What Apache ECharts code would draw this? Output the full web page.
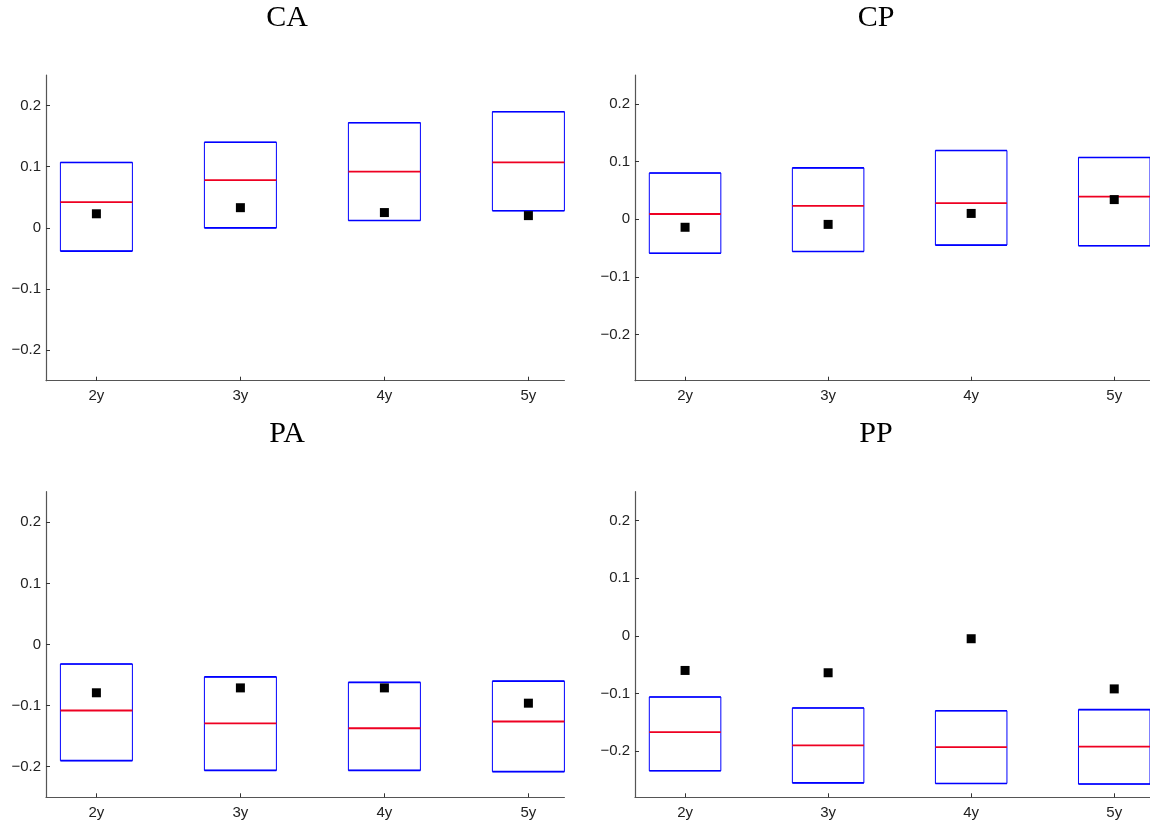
<!DOCTYPE html>
<html>
<head>
<meta charset="utf-8">
<script src="https://cdn.jsdelivr.net/npm/echarts@6/dist/echarts.min.js"></script>
<style>
  html, body { margin: 0; padding: 0; background: #fff; }
  #chart { width: 1150px; height: 826px; }
</style>
</head>
<body>
<div id="chart"></div>
<script>
// Forecast horizons (x positions 1..4)
const horizons = ['2y', '3y', '4y', '5y'];
const panelNames = ['CA', 'CP', 'PA', 'PP'];
const yTicks = [-0.2, -0.1, 0, 0.1, 0.2];

// Band limits, median and point estimate per panel
const caUpper  = [0.107, 0.140, 0.172, 0.190];
const caLower  = [-0.038, 0.000, 0.012, 0.028];
const caMedian = [0.042, 0.078, 0.092, 0.107];
const caPoint  = [0.023, 0.033, 0.025, 0.020];

const cpUpper  = [0.080, 0.089, 0.119, 0.107];
const cpLower  = [-0.059, -0.056, -0.045, -0.046];
const cpMedian = [0.009, 0.023, 0.028, 0.039];
const cpPoint  = [-0.014, -0.009, 0.010, 0.034];

const paUpper  = [-0.032, -0.053, -0.062, -0.060];
const paLower  = [-0.190, -0.206, -0.206, -0.208];
const paMedian = [-0.108, -0.129, -0.137, -0.126];
const paPoint  = [-0.079, -0.071, -0.071, -0.096];

const ppUpper  = [-0.106, -0.125, -0.130, -0.128];
const ppLower  = [-0.234, -0.255, -0.256, -0.257];
const ppMedian = [-0.167, -0.190, -0.193, -0.192];
const ppPoint  = [-0.060, -0.064, -0.005, -0.092];

const panelData = [
  { upper: caUpper, lower: caLower, median: caMedian, point: caPoint, yMin: -0.25 },
  { upper: cpUpper, lower: cpLower, median: cpMedian, point: cpPoint, yMin: -0.28 },
  { upper: paUpper, lower: paLower, median: paMedian, point: paPoint, yMin: -0.25 },
  { upper: ppUpper, lower: ppLower, median: ppMedian, point: ppPoint, yMin: -0.28 }
];

const gridBoxes = [
  { left: 46,  top: 75,    width: 518.4, height: 305.7 },
  { left: 635, top: 75,    width: 518.4, height: 305.7 },
  { left: 46,  top: 491.7, width: 518.4, height: 305.6 },
  { left: 635, top: 491.7, width: 518.4, height: 305.6 }
];
const titlePos = [[287, 18], [876, 18], [287, 434], [876, 434]];

const halfWidth = 0.25;
const axisColor = '#555';

function fmtY(v) {
  if (Math.abs(v) < 1e-9) return '0';
  return (v < 0 ? '\u2212' : '') + Math.abs(v).toFixed(1);
}

const grids = [], xAxes = [], yAxes = [], series = [], graphics = [];

panelData.forEach((p, i) => {
  grids.push(Object.assign({ containLabel: false }, gridBoxes[i]));
  xAxes.push({
    type: 'value', gridIndex: i, min: 0.65, max: 4.25,
    splitLine: { show: false },
    axisLine: { onZero: false, lineStyle: { color: axisColor, width: 1.2 } },
    axisTick: { inside: true, length: 4, customValues: [1, 2, 3, 4], lineStyle: { color: '#333' } },
    axisLabel: {
      customValues: [1, 2, 3, 4], margin: 8,
      formatter: v => horizons[Math.round(v) - 1],
      fontFamily: 'Liberation Sans', fontSize: 15, color: '#222'
    }
  });
  yAxes.push({
    type: 'value', gridIndex: i, min: p.yMin, max: 0.25,
    splitLine: { show: false },
    axisLine: { show: true, lineStyle: { color: axisColor, width: 1.2 } },
    axisTick: { show: true, inside: true, length: 4, customValues: yTicks, lineStyle: { color: '#333' } },
    axisLabel: {
      customValues: yTicks, margin: 5, formatter: fmtY,
      fontFamily: 'Liberation Sans', fontSize: 15, color: '#222'
    }
  });

  const boxData = horizons.map((h, k) => [k + 1, p.lower[k], p.upper[k], p.median[k]]);
  series.push({
    type: 'custom', xAxisIndex: i, yAxisIndex: i, clip: false,
    data: boxData,
    renderItem: function (params, api) {
      const x = api.value(0);
      const lo = api.value(1), hi = api.value(2), md = api.value(3);
      const tl = api.coord([x - halfWidth, hi]);
      const br = api.coord([x + halfWidth, lo]);
      const ml = api.coord([x - halfWidth, md]);
      const mr = api.coord([x + halfWidth, md]);
      return {
        type: 'group',
        children: [
          { type: 'rect', shape: { x: tl[0], y: tl[1], width: br[0] - tl[0], height: br[1] - tl[1] },
            style: { fill: 'none', stroke: '#0000ff', lineWidth: 1 } },
          { type: 'line', shape: { x1: tl[0], y1: tl[1], x2: br[0], y2: tl[1] },
            style: { stroke: '#0000ff', lineWidth: 1.6 } },
          { type: 'line', shape: { x1: tl[0], y1: br[1], x2: br[0], y2: br[1] },
            style: { stroke: '#0000ff', lineWidth: 1.6 } },
          { type: 'line', shape: { x1: ml[0], y1: ml[1], x2: mr[0], y2: mr[1] },
            style: { stroke: '#ee0022', lineWidth: 1.8 } }
        ]
      };
    }
  });
  series.push({
    type: 'scatter', xAxisIndex: i, yAxisIndex: i,
    symbol: 'rect', symbolSize: 9,
    itemStyle: { color: '#000', opacity: 1 },
    data: horizons.map((h, k) => [k + 1, p.point[k]]),
    z: 5
  });

  graphics.push({
    type: 'text', x: titlePos[i][0], y: titlePos[i][1],
    style: {
      text: panelNames[i], fontFamily: 'Liberation Serif', fontSize: 30,
      fill: '#000', align: 'center', verticalAlign: 'middle'
    }
  });
});

const chart = echarts.init(document.getElementById('chart'), null, { renderer: 'canvas' });
chart.setOption({
  animation: false,
  backgroundColor: '#fff',
  grid: grids,
  xAxis: xAxes,
  yAxis: yAxes,
  series: series,
  graphic: graphics
});
</script>
</body>
</html>
